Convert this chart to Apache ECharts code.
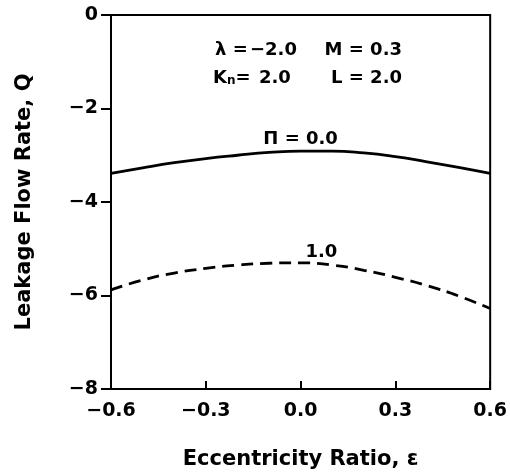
<!DOCTYPE html>
<html><head><meta charset="utf-8">
<script src="https://cdn.jsdelivr.net/npm/echarts@6/dist/echarts.min.js"></script>
<style>html,body{margin:0;padding:0;background:#fff}#c{width:510px;height:475px}</style>
</head><body><div id="c"></div>
<script>
const eps = [-0.6,-0.5,-0.4,-0.3,-0.2,-0.1,0.0,0.1,0.2,0.3,0.4,0.5,0.6];
const qPi0 = [-3.39,-3.27,-3.16,-3.07,-3.00,-2.94,-2.91,-2.91,-2.95,-3.03,-3.14,-3.26,-3.39];
const qPi1 = [-5.88,-5.67,-5.52,-5.42,-5.35,-5.31,-5.30,-5.35,-5.46,-5.61,-5.79,-6.01,-6.28];
const xTicks = [-0.6,-0.3,0.0,0.3,0.6];
const yTicks = [0,-2,-4,-6,-8];
const curveLabels = [{text:'Π = 0.0', x:0.0, y:-2.67},{text:'1.0', x:0.066, y:-5.07}];

const FONT = '"DejaVu Sans", sans-serif';
const chart = echarts.init(document.getElementById('c'));
const fmtMinus = s => s.replace('-', '\u2212');
chart.setOption({
  animation:false,
  grid:{left:111,right:19,top:15,bottom:86,show:true,borderColor:'#000',borderWidth:2},
  xAxis:{type:'value',min:-0.6,max:0.6,interval:0.3,
    name:'Eccentricity Ratio, ε',nameLocation:'middle',nameGap:60,
    nameTextStyle:{fontSize:21,color:'#000',fontFamily:FONT,fontWeight:'bold'},
    axisLine:{show:true,onZero:false,lineStyle:{color:'#000',width:2}},
    axisTick:{show:true,inside:true,length:8,lineStyle:{color:'#000',width:2}},
    axisLabel:{fontSize:19,color:'#000',fontFamily:FONT,fontWeight:'bold',margin:13,formatter:v=>fmtMinus(v.toFixed(1))},
    splitLine:{show:false}},
  yAxis:{type:'value',min:-8,max:0,interval:2,
    name:'Leakage Flow Rate, Q',nameLocation:'middle',nameGap:76,
    nameTextStyle:{fontSize:21,color:'#000',fontFamily:FONT,fontWeight:'bold'},
    axisLine:{show:true,onZero:false,lineStyle:{color:'#000',width:2}},
    axisTick:{show:true,inside:false,length:10,lineStyle:{color:'#000',width:2}},
    axisLabel:{fontSize:19,color:'#000',fontFamily:FONT,fontWeight:'bold',margin:13,formatter:v=>fmtMinus(String(v))},
    splitLine:{show:false}},
  series:[
    {type:'line',data:eps.map((e,i)=>[e,qPi0[i]]),smooth:true,showSymbol:false,
      lineStyle:{color:'#000',width:2.8}},
    {type:'line',data:eps.map((e,i)=>[e,qPi1[i]]),smooth:true,showSymbol:false,
      lineStyle:{color:'#000',width:2.8,type:[12,7]}}
  ]
});
const TF = 'bold 18px '+FONT;
const g = [];
curveLabels.forEach(l=>{
  const p = chart.convertToPixel({gridIndex:0},[l.x,l.y]);
  g.push({type:'text',x:p[0],y:p[1],style:{text:l.text,font:TF,fill:'#000',align:'center',verticalAlign:'middle'}});
});
const ann = [
  {t:'λ =',x:215,y:50,a:'left'},{t:'\u22122.0',x:250,y:50,a:'left'},{t:'M = 0.3',x:402,y:50,a:'right'},
  {t:'2.0',x:259,y:78,a:'left'},{t:'L = 2.0',x:402,y:78,a:'right'}
];
ann.forEach(a=>g.push({type:'text',x:a.x,y:a.y,style:{text:a.t,font:TF,fill:'#000',align:a.a,verticalAlign:'middle'}}));
g.push({type:'text',x:213,y:78,style:{text:'{k|K}{n|n}{k|=}',align:'left',verticalAlign:'middle',
  rich:{k:{fontSize:18,fontFamily:FONT,fontWeight:'bold',fill:'#000'},n:{fontSize:12,fontFamily:FONT,fontWeight:'bold',fill:'#000',verticalAlign:'bottom',padding:[6,0,0,0]}}}});
chart.setOption({graphic:g});
</script></body></html>
